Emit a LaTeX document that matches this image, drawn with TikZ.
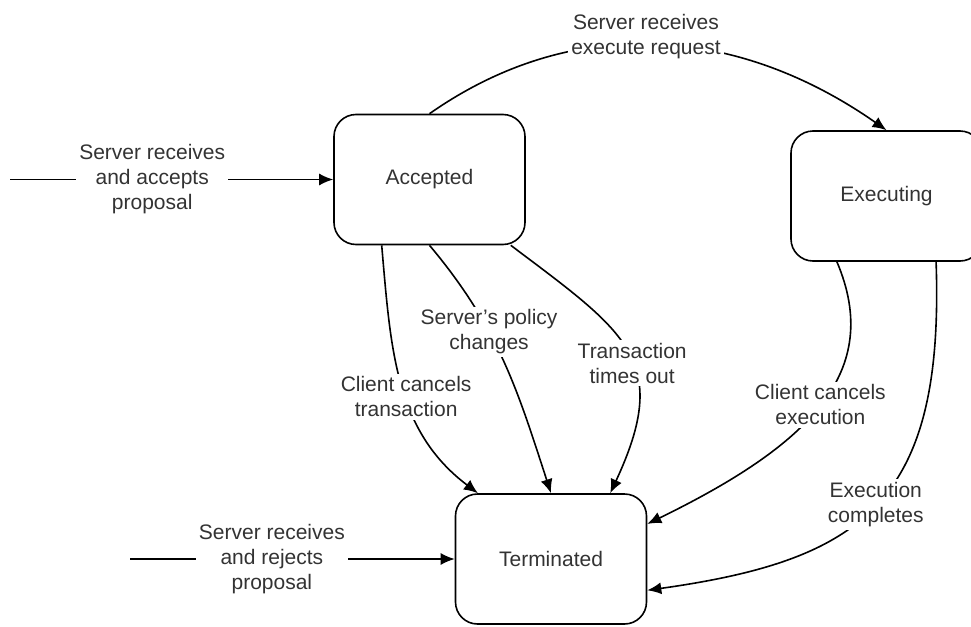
\documentclass[tikz,border=0pt]{standalone}
\usepackage{fontspec}
\setmainfont{Liberation Sans}
\usepackage{tikz}
\usetikzlibrary{positioning}
\usetikzlibrary{arrows,arrows.meta,shapes}
\tikzstyle{state}=[rectangle,rounded corners=11pt,draw,thick,minimum width=95.5pt,minimum height=65pt,font=\fontsize{10.5}{12.5}\selectfont,text=black!80]
\tikzstyle{edge} = [draw,thick,-{Latex[length=7pt,width=6pt]}]
\tikzstyle{trans} = [fill=white,align=center,inner sep=1.5pt,font=\fontsize{10.5}{12.5}\selectfont,text=black!80]

\begin{document}
\begin{tikzpicture}[x=0.5pt,y=0.5pt]
    \useasboundingbox (0,0) rectangle (971,-627);

    % First we draw the states
    \foreach \pos/\name/\label in {{(429.5,-179.5)/acc/Accepted}, {(886.5,-196)/exe/Executing}, {(551,-559)/term/Terminated}}
        \node[state] (\name) at \pos {\label};

    % Loose ends of the two incoming edges
    \coordinate (accin) at (10,-179.5);
    \coordinate (termin) at (130,-559);

    % Incoming edges and their labels
    \path[edge] (accin) -- node[trans, pos=0.44] {Server receives\\and accepts\\proposal} (acc.west);
    \path[edge] (termin) -- node[trans, pos=0.437] {Server receives\\and rejects\\proposal} (term.west);

    % Connect states with edges and draw labels
    \path[edge] (acc.north) to[out=35,in=145] node[trans, midway, xshift=-6pt, yshift=4pt] {Server receives\\execute request} (exe.north);
    \path[edge] (acc.234) to[out=-85,in=143] node[trans, pos=0.55] {Client cancels\\transaction} (term.138);
    \path[edge] (acc.south) to[out=-50,in=108] node[trans, pos=0.37] {Server's policy\\changes} (term.north);
    \path[edge] (acc.-39) to[out=-37,in=65,looseness=1.4] node[trans, pos=0.55] {Transaction\\times out} (term.48);
    \path[edge] (exe.233) to[out=-67,in=26,out distance=60pt,in distance=90pt] node[trans, pos=0.5] {Client cancels\\execution} (term.20);
    \path[edge] (exe.-53) to[out=-88,in=8,out distance=120pt,in distance=109pt] node[trans, pos=0.5] {Execution\\completes} (term.-18);

\end{tikzpicture}
\end{document}
